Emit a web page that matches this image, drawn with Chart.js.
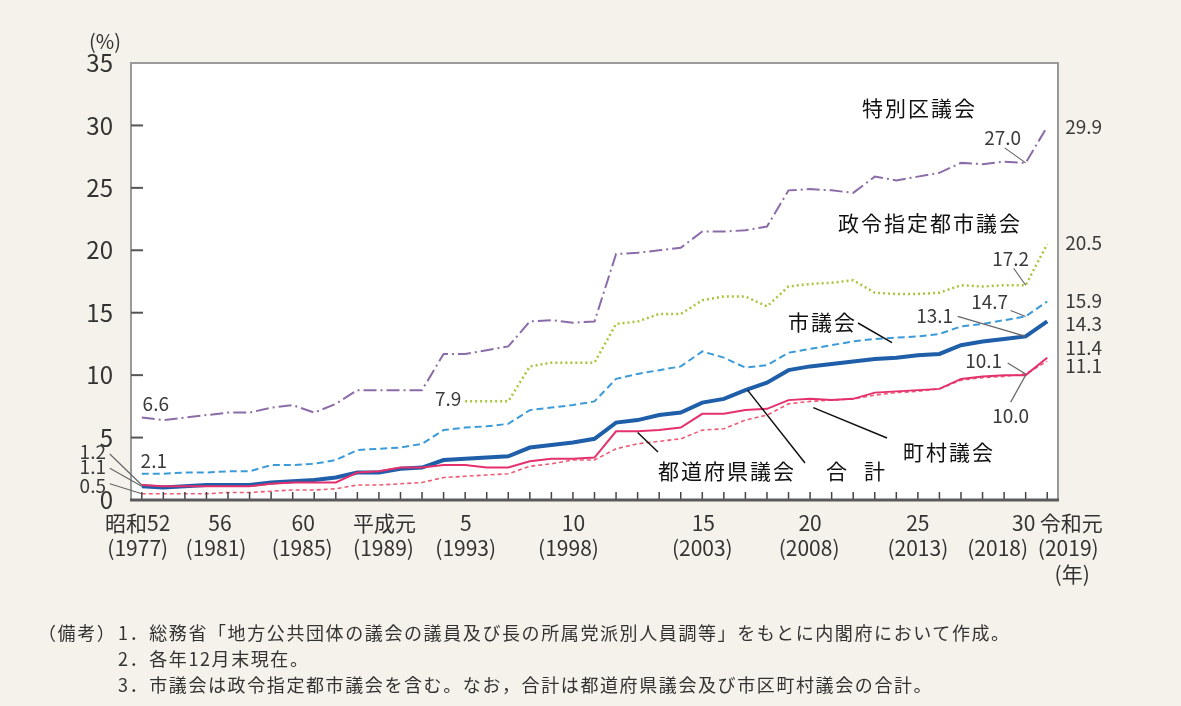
<!DOCTYPE html>
<html lang="ja">
<head>
<meta charset="utf-8">
<title>地方議会における女性議員の割合の推移</title>
<script src="https://cdn.jsdelivr.net/npm/chart.js@4.4.1/dist/chart.umd.min.js"></script>
<style>
    html, body { margin: 0; padding: 0; background: #f4f2ea; }
    body { width: 1181px; height: 706px; position: relative; overflow: hidden; font-family: "Noto Sans CJK JP", sans-serif; }
    #women-chart { position: absolute; left: 0; top: 0; }
    .note { position: absolute; font-size: 18px; line-height: 26px; letter-spacing: 1.6px; color: #333; white-space: nowrap; }
</style>
</head>
<body>
<canvas id="women-chart" width="1181" height="706"></canvas>
<div class="note" style="left:38px; top:619px;">（備考）</div>
<div class="note" style="left:118px; top:619px;">1．総務省「地方公共団体の議会の議員及び長の所属党派別人員調等」をもとに内閣府において作成。<br>2．各年12月末現在。<br>3．市議会は政令指定都市議会を含む。なお，合計は都道府県議会及び市区町村議会の合計。</div>

<script>
// data =========================================================//

const years = ['1977', '1978', '1979', '1980', '1981', '1982', '1983', '1984', '1985', '1986',
    '1987', '1988', '1989', '1990', '1991', '1992', '1993', '1994', '1995', '1996',
    '1997', '1998', '1999', '2000', '2001', '2002', '2003', '2004', '2005', '2006',
    '2007', '2008', '2009', '2010', '2011', '2012', '2013', '2014', '2015', '2016',
    '2017', '2018', '2019'];

// 特別区議会
const tokubetsuku = [6.6, 6.4, 6.6, 6.8, 7.0, 7.0, 7.4, 7.6, 7.0, 7.7,
    8.8, 8.8, 8.8, 8.8, 11.7, 11.7, 12.0, 12.3, 14.3, 14.4,
    14.2, 14.3, 19.7, 19.8, 20.0, 20.2, 21.5, 21.5, 21.6, 21.9,
    24.8, 24.9, 24.8, 24.6, 25.9, 25.6, 25.9, 26.2, 27.0, 26.9,
    27.1, 27.0, 29.9];

// 政令指定都市議会
const seirei = [null, null, null, null, null, null, null, null, null, null,
    null, null, null, null, null, 7.9, 7.9, 7.9, 10.7, 11.0,
    11.0, 11.0, 14.1, 14.3, 14.9, 14.9, 16.0, 16.3, 16.3, 15.5,
    17.1, 17.3, 17.4, 17.6, 16.6, 16.5, 16.5, 16.6, 17.2, 17.1,
    17.2, 17.2, 20.5];

// 市議会
const shigikai = [2.1, 2.1, 2.2, 2.2, 2.3, 2.3, 2.8, 2.8, 2.9, 3.2,
    4.0, 4.1, 4.2, 4.5, 5.6, 5.8, 5.9, 6.1, 7.2, 7.4,
    7.6, 7.9, 9.7, 10.1, 10.4, 10.7, 11.9, 11.4, 10.6, 10.8,
    11.8, 12.1, 12.4, 12.7, 12.9, 13.0, 13.1, 13.3, 13.9, 14.1,
    14.4, 14.7, 15.9];

// 合計
const gokei = [1.1, 1.0, 1.1, 1.2, 1.2, 1.2, 1.4, 1.5, 1.6, 1.8,
    2.2, 2.2, 2.5, 2.6, 3.2, 3.3, 3.4, 3.5, 4.2, 4.4,
    4.6, 4.9, 6.2, 6.4, 6.8, 7.0, 7.8, 8.1, 8.8, 9.4,
    10.4, 10.7, 10.9, 11.1, 11.3, 11.4, 11.6, 11.7, 12.4, 12.7,
    12.9, 13.1, 14.3];

// 都道府県議会
const todofuken = [1.2, 1.1, 1.1, 1.1, 1.1, 1.1, 1.3, 1.4, 1.4, 1.4,
    2.2, 2.3, 2.6, 2.6, 2.8, 2.8, 2.6, 2.6, 3.1, 3.3,
    3.3, 3.4, 5.5, 5.5, 5.6, 5.8, 6.9, 6.9, 7.2, 7.3,
    8.0, 8.1, 8.0, 8.1, 8.6, 8.7, 8.8, 8.9, 9.7, 9.9,
    10.0, 10.0, 11.4];

// 町村議会
const chouson = [0.5, 0.5, 0.5, 0.5, 0.6, 0.6, 0.7, 0.8, 0.8, 0.9,
    1.2, 1.2, 1.3, 1.4, 1.8, 1.9, 2.0, 2.1, 2.7, 2.9,
    3.2, 3.2, 4.1, 4.5, 4.7, 4.9, 5.6, 5.7, 6.4, 6.8,
    7.7, 7.9, 8.0, 8.1, 8.4, 8.6, 8.7, 8.9, 9.6, 9.8,
    9.9, 10.1, 11.1];

// x axis labels
const tickIndex = [0, 4, 8, 12, 16, 21, 26, 31, 36, 41, 42];
const tickEra = ['昭和52', '56', '60', '平成元', '5', '10', '15', '20', '25', '30', '令和元'];
const tickSeireki = ['(1977)', '(1981)', '(1985)', '(1989)', '(1993)', '(1998)', '(2003)', '(2008)', '(2013)', '(2018)', '(2019)'];

// data =========================================================//


const FONT = '"Noto Sans CJK JP", "Noto Sans", sans-serif';
const TEXT_COLOR = '#333333';

// label shifts from the tick, like in the printed figure
const eraShift = [-4, -8, -11, -16, -21, -21, 1, 0, 0, -2, 24];
const seirekiShift = [-4, -12, -12, -17, -21, -26, 0, -1, 0, -28, 21];


// plugins =========================================================//

const plotBackground = {
    id: 'plotBackground',
    beforeDraw(chart) {
        const { ctx, chartArea: a } = chart;
        ctx.save();
        ctx.fillStyle = '#ffffff';
        ctx.fillRect(a.left, a.top, a.right - a.left, a.bottom - a.top);
        ctx.restore();
    }
};

const frameAndTicks = {
    id: 'frameAndTicks',
    afterDatasetsDraw(chart) {
        const { ctx, chartArea: a, scales } = chart;
        ctx.save();
        ctx.strokeStyle = '#9a9a9a';
        ctx.lineWidth = 2;
        ctx.beginPath();
        ctx.moveTo(a.left, a.bottom);
        ctx.lineTo(a.left, a.top);
        ctx.lineTo(a.right, a.top);
        ctx.lineTo(a.right, a.bottom);
        ctx.stroke();

        // y ticks go inward
        ctx.strokeStyle = '#555555';
        ctx.lineWidth = 2;
        [5, 10, 15, 20, 25, 30].forEach(v => {
            const y = scales.y.getPixelForValue(v);
            ctx.beginPath();
            ctx.moveTo(a.left, y);
            ctx.lineTo(a.left + 12, y);
            ctx.stroke();
        });

        // x ticks
        ctx.lineWidth = 1.5;
        ctx.strokeStyle = '#444444';
        years.forEach((y, i) => {
            const x = scales.x.getPixelForValue(i);
            ctx.beginPath();
            ctx.moveTo(x, a.bottom);
            ctx.lineTo(x, a.bottom - 8);
            ctx.stroke();
        });

        ctx.strokeStyle = '#5a5a5a';
        ctx.lineWidth = 3;
        ctx.beginPath();
        ctx.moveTo(a.left - 1, a.bottom);
        ctx.lineTo(a.right + 1, a.bottom);
        ctx.stroke();
        ctx.restore();
    }
};

const xLabels = {
    id: 'xLabels',
    afterDraw(chart) {
        const { ctx, chartArea: a, scales } = chart;
        ctx.save();
        ctx.font = '21px ' + FONT;
        ctx.fillStyle = TEXT_COLOR;
        ctx.textAlign = 'center';
        ctx.textBaseline = 'middle';
        tickIndex.forEach((idx, k) => {
            const x = scales.x.getPixelForValue(idx);
            ctx.fillText(tickEra[k], x + eraShift[k], a.bottom + 23);
            ctx.fillText(tickSeireki[k], x + seirekiShift[k], a.bottom + 48);
        });
        ctx.fillText('(年)', scales.x.getPixelForValue(42) + 25, a.bottom + 74);

        ctx.font = '20px ' + FONT;
        ctx.fillText('(%)', 105, 41);
        ctx.restore();
    }
};

// callouts: [series, index, text dx, text dy, line dx, line dy]
const callouts = [
    [tokubetsuku, 0, 14, -14, null, null],
    [shigikai, 0, 12, -13, null, null],
    [seirei, 15, -17, -3, null, null],
    [todofuken, 0, -49, -33, -32, -31],
    [gokei, 0, -49, -19, -32, -18],
    [chouson, 0, -49, -8, -32, -10],
    [tokubetsuku, 41, -23, -25, -21, -15],
    [seirei, 41, -15, -26, -12, -17],
    [shigikai, 41, -36, -15, -15, -6],
    [gokei, 41, -91, -21, -68, -20],
    [chouson, 41, -42, -13, -18, -11],
    [todofuken, 41, -15, 41, -15, 27]
];

// last values on the right: [series, dy]
const endLabels = [
    [tokubetsuku, 0], [seirei, -1], [shigikai, -1], [gokei, 2], [todofuken, -10], [chouson, 4]
];

const valueLabels = {
    id: 'valueLabels',
    afterDraw(chart) {
        const { ctx, scales } = chart;
        ctx.save();
        ctx.font = '19px ' + FONT;
        ctx.fillStyle = '#3a3a3a';
        ctx.textBaseline = 'middle';

        callouts.forEach(([s, i, dx, dy, lx, ly]) => {
            const px = scales.x.getPixelForValue(i);
            const py = scales.y.getPixelForValue(s[i]);
            if (lx !== null) {
                ctx.strokeStyle = '#666666';
                ctx.lineWidth = 1.2;
                ctx.beginPath();
                ctx.moveTo(px + lx, py + ly);
                ctx.lineTo(px, py);
                ctx.stroke();
            }
            ctx.textAlign = 'center';
            ctx.fillText(s[i].toFixed(1), px + dx, py + dy);
        });

        const last = years.length - 1;
        ctx.textAlign = 'left';
        endLabels.forEach(([s, dy]) => {
            const px = scales.x.getPixelForValue(last) + 18;
            const py = scales.y.getPixelForValue(s[last]) + dy;
            ctx.fillText(s[last].toFixed(1), px, py);
        });
        ctx.restore();
    }
};

// series names: text, x, y, leader start, leader end (index, value)
const seriesNames = [
    ['特別区議会', 862, 108, null, null],
    ['政令指定都市議会', 838, 223, null, null],
    ['市議会', 788, 322, [858, 323], [34.8, 12.6]],
    ['都道府県議会', 658, 471, [658, 452], [23.0, 5.4]],
    ['合', 826, 471, [805, 463], [28.1, 8.8]],
    ['計', 864, 471, null, null],
    ['町村議会', 903, 452, [887, 438], [31.15, 7.4]]
];

const nameLabels = {
    id: 'nameLabels',
    afterDraw(chart) {
        const { ctx, scales } = chart;
        ctx.save();
        ctx.font = '21px ' + FONT;
        ctx.fillStyle = '#111111';
        ctx.textAlign = 'left';
        ctx.textBaseline = 'middle';
        ctx.letterSpacing = '2px';
        seriesNames.forEach(([t, x, y, from, to]) => {
            ctx.fillText(t, x, y);
            if (from) {
                ctx.strokeStyle = '#111111';
                ctx.lineWidth = 1.5;
                ctx.beginPath();
                ctx.moveTo(from[0], from[1]);
                ctx.lineTo(scales.x.getPixelForValue(to[0]), scales.y.getPixelForValue(to[1]));
                ctx.stroke();
            }
        });
        ctx.restore();
    }
};

// plugins =========================================================//


// chart =========================================================//

const womenCanvas = document.getElementById('women-chart');

const lineStyle = (label, data, color, width, dash) => ({
    label: label,
    data: data,
    borderColor: color,
    borderWidth: width,
    borderDash: dash,
    fill: false,
    tension: 0,
    pointRadius: 0
});

const womenData = {
    labels: years,
    datasets: [
        lineStyle('都道府県議会', todofuken, '#e4306c', 2, []),
        lineStyle('町村議会', chouson, '#ee5b74', 1.6, [4, 3]),
        lineStyle('合計', gokei, '#1f5ea8', 4, []),
        lineStyle('市議会', shigikai, '#3b9ad8', 2, [7, 4]),
        lineStyle('政令指定都市議会', seirei, '#a6c63c', 2.5, [2, 3]),
        lineStyle('特別区議会', tokubetsuku, '#8c6ca8', 2, [13, 4, 2, 4])
    ]
};

const womenConfig = {
    type: 'line',
    data: womenData,
    options: {
        responsive: false,
        animation: false,
        layout: {
            padding: { left: 0, right: 123, top: 63, bottom: 0 }
        },
        plugins: {
            legend: { display: false },
            tooltip: { enabled: false }
        },
        scales: {
            x: {
                offset: true,
                grid: { display: false },
                border: { display: false },
                ticks: { display: false },
                afterFit: (scale) => { scale.height = 206; }
            },
            y: {
                min: 0,
                max: 35,
                grid: { display: false },
                border: { display: false },
                ticks: {
                    stepSize: 5,
                    padding: 10,
                    color: TEXT_COLOR,
                    font: { family: FONT, size: 24 }
                },
                afterFit: (scale) => { scale.width = 131; }
            }
        }
    },
    plugins: [plotBackground, frameAndTicks, xLabels, valueLabels, nameLabels]
};

const womenChart = new Chart(womenCanvas, womenConfig);

// chart =========================================================//
</script>
</body>
</html>
